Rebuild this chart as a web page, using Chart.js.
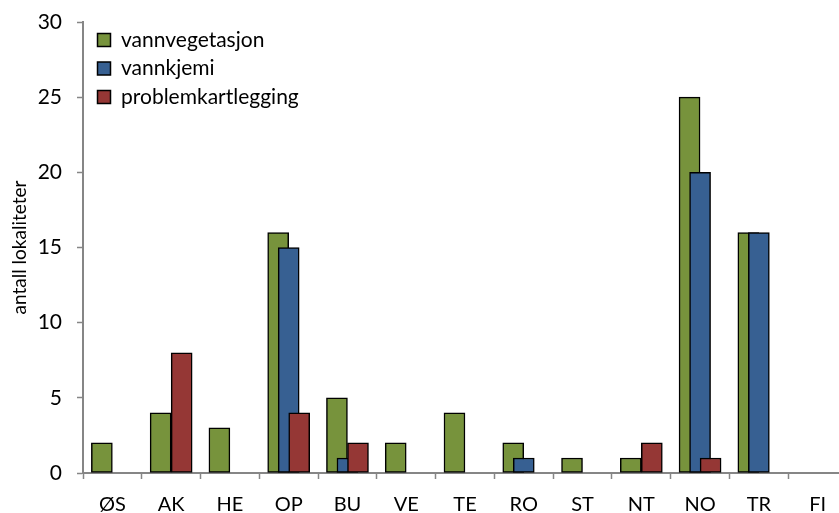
<!DOCTYPE html>
<html>
<head>
<meta charset="utf-8">
<script src="https://cdn.jsdelivr.net/npm/chart.js@4"></script>
<style>
  html, body { margin: 0; padding: 0; overflow: hidden; background: #fff; }
  #wrap { width: 847px; height: 513px; }
</style>
</head>
<body>
<div id="wrap"><canvas id="chart"></canvas></div>
<script>
// fylker
var categories = ['ØS', 'AK', 'HE', 'OP', 'BU', 'VE', 'TE', 'RO', 'ST', 'NT', 'NO', 'TR', 'FI'];

var vannvegetasjon     = [2, 4, 3, 16, 5, 2, 4, 2, 1, 1, 25, 16, null];
var vannkjemi          = [null, null, null, 15, 1, null, null, 1, null, null, 20, 16, null];
var problemkartlegging = [null, 8, null, 4, 2, null, null, null, null, 2, 1, null, null];

var yTicks = [0, 5, 10, 15, 20, 25, 30];

var seriesLabels = ['vannvegetasjon', 'vannkjemi', 'problemkartlegging'];
var seriesColors = ['#77933C', '#376092', '#953735'];
var seriesShift  = [-0.179, 0, 0.179];   // excel-style overlap, in category units

var axisGrey = '#868686';
Chart.defaults.font.family = 'Lato, "Open Sans", sans-serif';
Chart.defaults.color = '#000';

var datasets = [vannvegetasjon, vannkjemi, problemkartlegging].map((d, s) => {
  return {
    label: seriesLabels[s],
    data: d.map((v, i) => ({ x: i + seriesShift[s], y: v })),
    backgroundColor: seriesColors[s],
    borderColor: '#000',
    borderWidth: 1.5,
    borderSkipped: false,
    barThickness: 21,
    grouped: false,
    xAxisID: 'xl',
    order: 3 - s   // later series drawn on top
  }
});

// put the legend inside the plot, top left
var legendNudge = {
  id: 'legendNudge',
  afterLayout: (chart) => {
    if (chart.legend) {
      chart.legend.left = chart.chartArea.left + 7;
      chart.legend.top = chart.chartArea.top;
    }
  }
};

new Chart(document.getElementById('chart'), {
  type: 'bar',
  data: {
    labels: categories,
    datasets: datasets
  },
  plugins: [legendNudge],
  options: {
    responsive: true,
    maintainAspectRatio: false,
    animation: false,
    layout: { padding: { top: 22, right: 0, bottom: 0, left: 0 } },
    plugins: {
      tooltip: { enabled: false },
      legend: {
        position: 'chartArea',
        align: 'start',
        labels: {
          boxWidth: 13,
          boxHeight: 13,
          padding: 7.5,
          font: { size: 21 },
          color: '#000',
          sort: (a, b) => a.datasetIndex - b.datasetIndex
        }
      }
    },
    scales: {
      xl: {
        type: 'linear',
        display: false,
        offset: false,
        min: -0.5,
        max: categories.length - 0.5
      },
      x: {
        type: 'category',
        labels: categories,
        offset: true,
        position: 'bottom',
        afterFit: (s) => { s.height = 40; },
        border: { color: axisGrey, width: 2 },
        grid: {
          offset: true,
          drawOnChartArea: false,
          tickLength: 6,
          tickColor: axisGrey,
          tickWidth: 1.5
        },
        ticks: {
          font: { size: 20 },
          padding: 14,
          maxRotation: 0,
          autoSkip: false
        }
      },
      y: {
        min: 0,
        max: 30,
        afterFit: (s) => { s.width = 83; s.paddingTop = 0; s.paddingBottom = 0; },
        afterBuildTicks: (s) => { s.ticks = yTicks.map(v => ({ value: v })); },
        border: { color: axisGrey, width: 2 },
        grid: {
          drawOnChartArea: false,
          tickLength: 6,
          tickColor: axisGrey,
          tickWidth: 1.5
        },
        ticks: {
          font: { size: 21 },
          padding: 15
        },
        title: {
          display: true,
          text: 'antall lokaliteter',
          font: { size: 19 },
          padding: { top: 8, bottom: 0 }
        }
      }
    }
  }
});
</script>
</body>
</html>
